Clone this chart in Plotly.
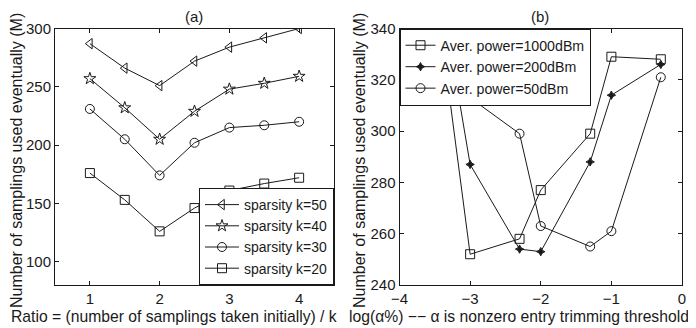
import plotly.graph_objects as go

# ---- panel (a) data ----
ratio = [1, 1.5, 2, 2.5, 3, 3.5, 4]
k50 = [287, 266, 251, 272, 284, 292, 300]
k40 = [257, 232, 205, 229, 248, 253, 259]
k30 = [231, 205, 174, 202, 215, 217, 220]
k20 = [176, 153, 126, 146, 161, 167, 172]
names_a = ["sparsity k=50", "sparsity k=40", "sparsity k=30", "sparsity k=20"]

# ---- panel (b) data ----
log_alpha = [-3.3, -3, -2.3, -2, -1.3, -1, -0.3]
p1000 = [315, 252, 258, 277, 299, 329, 328]
p200 = [336, 287, 254, 253, 288, 314, 326]
p50 = [330, 313, 299, 263, 255, 261, 321]
names_b = ["Aver. power=1000dBm", "Aver. power=200dBm", "Aver. power=50dBm"]

FONT = "Liberation Sans"
C = "#1a1a1a"

# page has an 8px body margin: figure is drawn 8px right/down
OFF = 8
W, H = 696 - OFF, 328 - OFF


def px(X):
    return (X - OFF) / W


def py(Y):
    return (H - (Y - OFF)) / H


fig = go.Figure()

sym_a = ["triangle-left-open", "star-open", "circle-open", "square-open"]
for ys, nm, sy in zip([k50, k40, k30, k20], names_a, sym_a):
    fig.add_trace(go.Scatter(
        x=ratio, y=ys, name=nm, mode="lines+markers",
        line=dict(color=C, width=1),
        marker=dict(symbol=sy, size=9, color=C, line=dict(width=1, color=C)),
        xaxis="x", yaxis="y", legend="legend"))

sym_b = ["square-open", "star-diamond", "circle-open"]
size_b = [9, 6, 9]
for ys, nm, sy, sz in zip([p1000, p200, p50], names_b, sym_b, size_b):
    fig.add_trace(go.Scatter(
        x=log_alpha, y=ys, name=nm, mode="lines+markers",
        line=dict(color=C, width=1),
        marker=dict(symbol=sy, size=sz, color=C, line=dict(width=1, color=C)),
        xaxis="x2", yaxis="y2", legend="legend2"))

axcommon = dict(showline=True, linecolor=C, linewidth=1, mirror="ticks",
                ticks="inside", ticklen=4, tickcolor=C, showgrid=False,
                zeroline=False, automargin=False,
                tickfont=dict(family=FONT, size=15, color=C))

y0 = py(285)
y1 = py(28.5)


def ann(text, x, y, angle=0, size=15):
    return dict(text=text, x=px(x), y=py(y), xref="paper", yref="paper",
                xanchor="center", yanchor="middle", textangle=angle,
                showarrow=False, font=dict(family=FONT, size=size, color=C))


fig.update_layout(
    width=W, height=H,
    margin=dict(l=0, r=0, t=0, b=0, autoexpand=False),
    paper_bgcolor="white", plot_bgcolor="white",
    font=dict(family=FONT, size=14, color=C),
    xaxis=dict(domain=[px(55), px(334)], range=[0.5, 4.5],
               tickvals=[1, 2, 3, 4], anchor="y", **axcommon),
    yaxis=dict(domain=[y0, y1], range=[80, 300],
               tickvals=[100, 150, 200, 250, 300], anchor="x", **axcommon),
    xaxis2=dict(domain=[px(399.5), px(682)], range=[-4, 0],
                tickvals=[-4, -3, -2, -1, 0],
                ticktext=["\u22124", "\u22123", "\u22122", "\u22121", "0"],
                anchor="y2", **axcommon),
    yaxis2=dict(domain=[y0, y1], range=[240, 340],
                tickvals=[240, 260, 280, 300, 320, 340], anchor="x2", **axcommon),
    legend=dict(x=px(334), y=y0, xanchor="right", yanchor="bottom",
                bgcolor="white", bordercolor=C, borderwidth=1,
                font=dict(family=FONT, size=14, color=C),
                tracegroupgap=0, itemwidth=34),
    legend2=dict(x=px(399.5), y=y1, xanchor="left", yanchor="top",
                 bgcolor="white", bordercolor=C, borderwidth=1,
                 font=dict(family=FONT, size=14.2, color=C),
                 tracegroupgap=0, itemwidth=30),
    showlegend=True,
    annotations=[
        ann("(a)", 194, 17),
        ann("(b)", 540, 17),
        ann("Ratio = (number of samplings taken initially) / k", 174, 316, size=15.7),
        ann("log(\u03b1%) \u2212\u2212 \u03b1 is nonzero entry trimming threshold", 519, 316, size=15.7),
        ann("Number of samplings used eventually (M)", 16, 161, -90, size=16),
        ann("Number of samplings used eventually (M)", 359, 161, -90, size=16),
    ],
)

fig.write_html("out.html")
